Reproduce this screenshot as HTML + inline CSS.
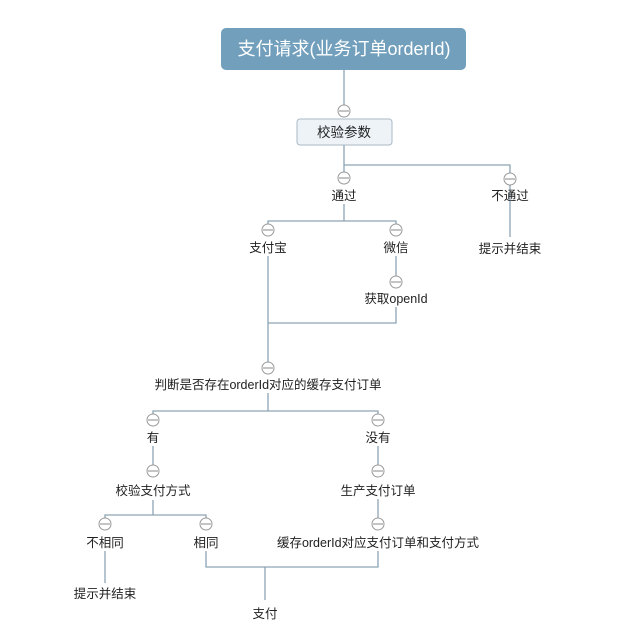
<!DOCTYPE html>
<html><head><meta charset="utf-8"><style>
html,body{margin:0;padding:0;background:#fff;}
svg text{font-family:"Liberation Sans","Noto Sans CJK SC",sans-serif;font-size:12.5px;fill:#222;text-anchor:middle;}
</style></head><body>
<svg width="624" height="632" viewBox="0 0 624 632" xmlns="http://www.w3.org/2000/svg">
<g stroke="#8da3b3" stroke-width="1.3" fill="none">
<path d="M344 70V105"/>
<path d="M344 145V172M344 165H510V173"/>
<path d="M510 185V237"/>
<path d="M344 204V221M268 224V221H396V224"/>
<path d="M396 256V276"/>
<path d="M396 307V323H268M268 256V362"/>
<path d="M268 393V411M153 414V411H378V414"/>
<path d="M153 446V465M378 446V465"/>
<path d="M153 500V515M105 518V515H206V518"/>
<path d="M378 499V518"/>
<path d="M105 551V583"/>
<path d="M206 551V567H378V551M265 567V600"/>
</g>
<g stroke="#999" stroke-width="1" fill="#fff">
<circle cx="344" cy="111" r="6"/><circle cx="344" cy="178" r="6"/><circle cx="510" cy="179" r="6"/>
<circle cx="268" cy="230" r="6"/><circle cx="396" cy="230" r="6"/><circle cx="396" cy="282" r="6"/>
<circle cx="268" cy="368" r="6"/><circle cx="153" cy="420" r="6"/><circle cx="378" cy="420" r="6"/>
<circle cx="153" cy="471" r="6"/><circle cx="378" cy="471" r="6"/><circle cx="105" cy="524" r="6"/>
<circle cx="206" cy="524" r="6"/><circle cx="378" cy="524" r="6"/>
</g>
<g stroke="#888" stroke-width="1">
<path d="M339 111h10M339 178h10M505 179h10M263 230h10M391 230h10M391 282h10M263 368h10M148 420h10M373 420h10M148 471h10M373 471h10M100 524h10M201 524h10M373 524h10"/>
</g>
<rect x="221" y="28" width="245" height="42" rx="5" fill="#729fbc"/>
<text x="344" y="55" style="font-size:18px;fill:#fff">支付请求(业务订单orderId)</text>
<rect x="297" y="119" width="95" height="26" rx="3" fill="#eef3f8" stroke="#aab9c6"/>
<text x="344" y="137" style="font-size:13.5px">校验参数</text>
<text x="344" y="200">通过</text>
<text x="510" y="200">不通过</text>
<text x="510" y="253">提示并结束</text>
<text x="268" y="252">支付宝</text>
<text x="396" y="252">微信</text>
<text x="396" y="303">获取openId</text>
<text x="268" y="389">判断是否存在orderId对应的缓存支付订单</text>
<text x="153" y="442">有</text>
<text x="378" y="442">没有</text>
<text x="153" y="495">校验支付方式</text>
<text x="378" y="495">生产支付订单</text>
<text x="105" y="547">不相同</text>
<text x="206" y="547">相同</text>
<text x="378" y="547">缓存orderId对应支付订单和支付方式</text>
<text x="105" y="598">提示并结束</text>
<text x="265" y="618">支付</text>
</svg>
</body></html>
